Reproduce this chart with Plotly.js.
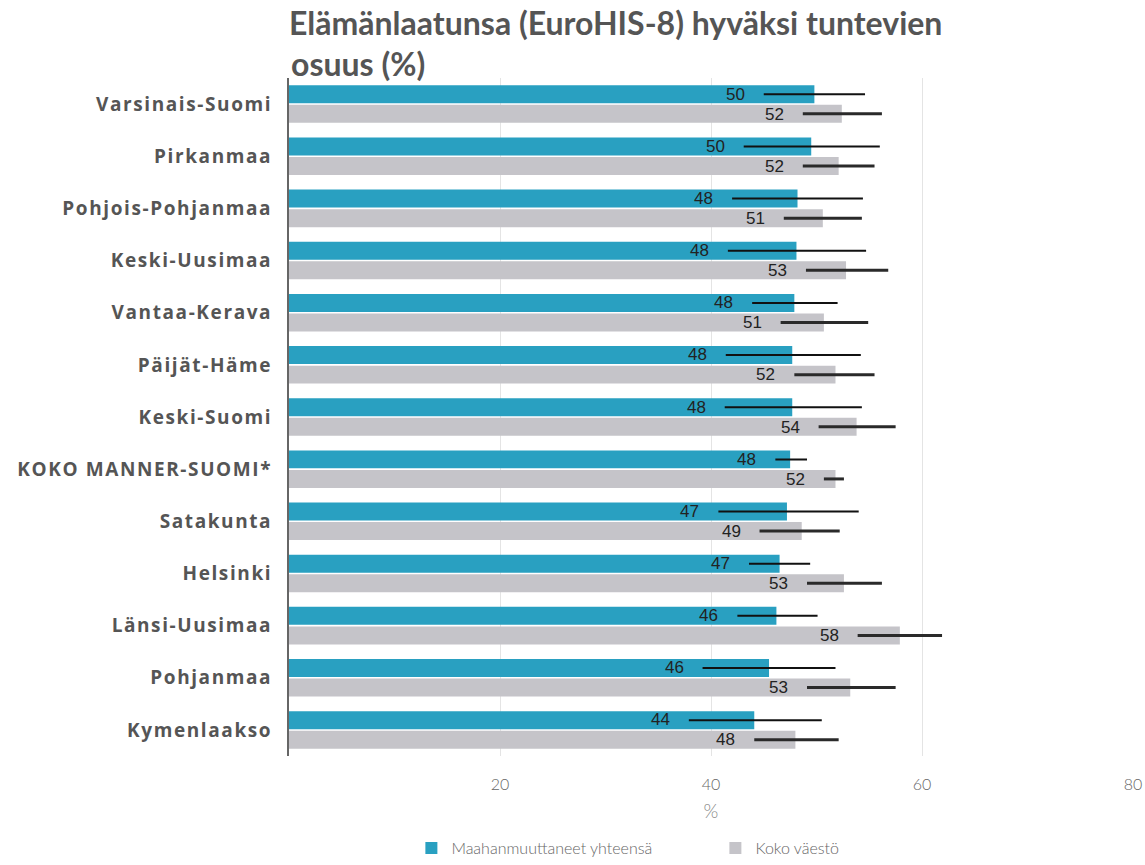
<!DOCTYPE html>
<html>
<head>
<meta charset="utf-8">
<script src="https://cdn.plot.ly/plotly-3.0.1.min.js"></script>
<style>
html,body{margin:0;padding:0;background:#fff;}
#chart{width:1145px;height:865px;}
#chart .ytick text{letter-spacing:1.6px;}
</style>
</head>
<body>
<div id="chart"></div>
<script>
const titleLine1 = "Elämänlaatunsa (EuroHIS-8) hyväksi tuntevien";
const titleLine2 = "osuus (%)";

const categories = ["Varsinais-Suomi","Pirkanmaa","Pohjois-Pohjanmaa","Keski-Uusimaa","Vantaa-Kerava","Päijät-Häme","Keski-Suomi","KOKO MANNER-SUOMI*","Satakunta","Helsinki","Länsi-Uusimaa","Pohjanmaa","Kymenlaakso"];

const immValues = [49.8, 49.5, 48.2, 48.1, 47.9, 47.7, 47.7, 47.5, 47.2, 46.5, 46.2, 45.5, 44.1];
const immLow    = [45.0, 43.1, 42.0, 41.6, 43.9, 41.4, 41.3, 46.1, 40.7, 43.6, 42.5, 39.2, 37.9];
const immHigh   = [54.6, 56.0, 54.4, 54.7, 52.0, 54.2, 54.3, 49.1, 54.0, 49.4, 50.1, 51.8, 50.5];
const immLabels = ["50","50","48","48","48","48","48","48","47","47","46","46","44"];

const popValues = [52.4, 52.1, 50.6, 52.8, 50.7, 51.8, 53.8, 51.8, 48.6, 52.6, 57.9, 53.2, 48.0];
const popLow    = [48.7, 48.7, 46.9, 49.0, 46.6, 47.9, 50.2, 50.7, 44.6, 49.1, 53.9, 49.1, 44.1];
const popHigh   = [56.2, 55.5, 54.3, 56.8, 54.9, 55.5, 57.5, 52.6, 52.2, 56.2, 61.9, 57.5, 52.1];
const popLabels = ["52","52","51","53","51","52","54","52","49","53","58","53","48"];

const xTicks = [20, 40, 60, 80];

const teal = "#29a0c1";
const grey = "#c5c4c9";

function errPlus(v, hi){ return v.map((x,i)=>hi[i]-x); }
function errMinus(v, lo){ return v.map((x,i)=>x-lo[i]); }

const traces = [
  {
    type: "bar", orientation: "h", name: "Maahanmuuttaneet yhteensä",
    y: categories, x: immValues,
    marker: {color: teal, line: {width: 0}},
    error_x: {type: "data", symmetric: false, array: errPlus(immValues, immHigh), arrayminus: errMinus(immValues, immLow), color: "#111", thickness: 2, width: 0},
    hoverinfo: "x+y"
  },
  {
    type: "bar", orientation: "h", name: "Koko väestö",
    y: categories, x: popValues,
    marker: {color: grey, line: {width: 0}},
    error_x: {type: "data", symmetric: false, array: errPlus(popValues, popHigh), arrayminus: errMinus(popValues, popLow), color: "#2a2a2a", thickness: 3, width: 0},
    hoverinfo: "x+y"
  }
];

const H = 865, MT = 78, MB = 109;
const plotH = H - MT - MB;

const labelFont = {family: "Liberation Sans, Arial, sans-serif", size: 17, color: "#222"};
const titleFont = {family: "Lato, sans-serif", size: 32, weight: 700, color: "#555"};
const annotations = [];
categories.forEach((c, i) => {
  annotations.push({x: immLow[i], y: c, xref: "x", yref: "y", text: immLabels[i], showarrow: false, xanchor: "right", yanchor: "middle", xshift: -17, yshift: 10, font: labelFont});
  annotations.push({x: popLow[i], y: c, xref: "x", yref: "y", text: popLabels[i], showarrow: false, xanchor: "right", yanchor: "middle", xshift: -17, yshift: -10, font: labelFont});
});
annotations.push({text: titleLine2, xref: "paper", x: 0, xanchor: "left", yref: "paper", y: (H - MB - 63) / plotH, yanchor: "middle", showarrow: false, font: titleFont});

const layout = {
  width: 1145, height: H,
  paper_bgcolor: "#fff", plot_bgcolor: "#fff",
  margin: {l: 289, r: 12, t: MT, b: MB},
  title: {
    text: titleLine1,
    font: titleFont,
    xref: "paper", x: 0, xanchor: "left",
    yref: "container", y: 1 - 24/H, yanchor: "middle"
  },
  barmode: "group", bargap: 0.25, bargroupgap: 0.08,
  xaxis: {
    range: [0, 80], tickvals: xTicks, ticktext: xTicks.map(String),
    showgrid: true, gridcolor: "#e4e4e4", gridwidth: 1,
    zeroline: false, showline: false,
    tickfont: {family: "Lato, sans-serif", size: 16, weight: 300, color: "#666"},
    ticks: "", ticklabelstandoff: 17,
    title: {text: "%", font: {family: "Lato, sans-serif", size: 19, weight: 300, color: "#888"}, standoff: 12},
    fixedrange: true
  },
  yaxis: {
    autorange: "reversed", type: "category",
    showgrid: false, showline: true, linecolor: "#666", linewidth: 2,
    tickfont: {family: "Open Sans, sans-serif", size: 19, weight: 700, color: "#555"},
    ticks: "", ticklabelstandoff: 11,
    fixedrange: true
  },
  showlegend: true,
  legend: {
    orientation: "h", x: 0.145, xanchor: "left", xref: "paper",
    y: 0.0, yanchor: "bottom", yref: "container",
    font: {family: "Lato, sans-serif", size: 16, weight: 300, color: "#666"},
    traceorder: "normal", entrywidth: 259, entrywidthmode: "pixels"
  },
  annotations: annotations
};

Plotly.newPlot("chart", traces, layout, {displayModeBar: false, staticPlot: true});
</script>
</body>
</html>
